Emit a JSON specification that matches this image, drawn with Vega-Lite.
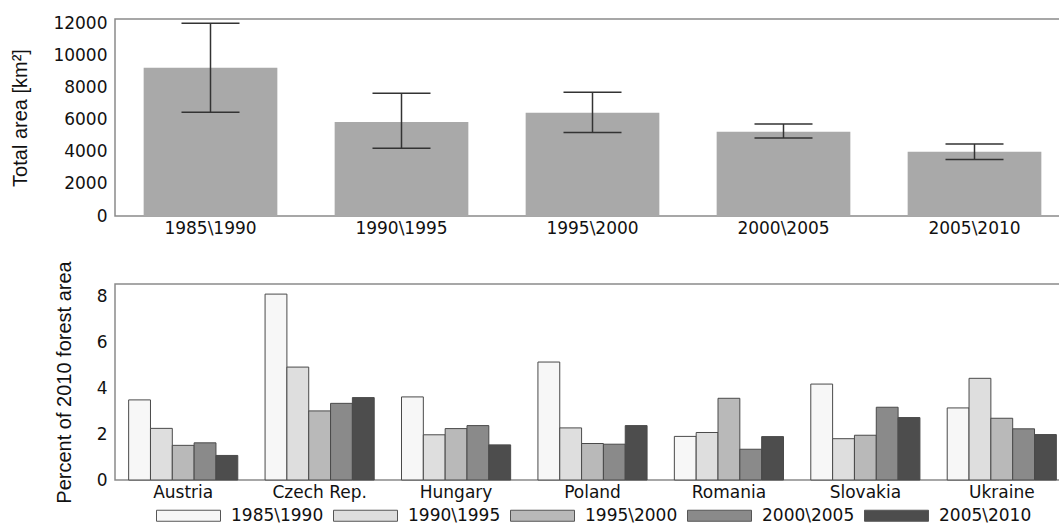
{
  "$schema": "https://vega.github.io/schema/vega-lite/v6.json",
  "padding": {"left": 10, "top": 13, "right": 0, "bottom": 0},
  "background": "white",
  "spacing": 23,
  "config": {
    "view": {"stroke": "#8a8a8a", "strokeWidth": 1.5},
    "axis": {"labelFont": "DejaVu Sans", "labelFontSize": 17, "labelColor": "#111", "titleFont": "Liberation Sans", "titleFontSize": 20, "titleFontWeight": "normal", "titleColor": "#111", "domain": false, "ticks": false, "grid": false, "labelOverlap": false},
    "legend": {"orient": "none", "legendX": 41, "legendY": 464, "direction": "horizontal", "columns": 5, "symbolType": "M-1,-0.172H1V0.172H-1Z", "symbolSize": 4096, "symbolStrokeColor": "#555", "symbolStrokeWidth": 1, "symbolOpacity": 1, "labelFont": "DejaVu Sans", "labelFontSize": 17, "labelColor": "#111", "labelOffset": 10, "columnPadding": 7}
  },
  "vconcat": [
    {
      "width": 955,
      "height": 197,
      "data": {"values": [
        {"period": "1985\\1990", "area": 9220, "lo": 6450, "hi": 11980},
        {"period": "1990\\1995", "area": 5850, "lo": 4210, "hi": 7630},
        {"period": "1995\\2000", "area": 6420, "lo": 5200, "hi": 7690},
        {"period": "2000\\2005", "area": 5240, "lo": 4850, "hi": 5720},
        {"period": "2005\\2010", "area": 4000, "lo": 3520, "hi": 4480}
      ]},
      "encoding": {
        "x": {"field": "period", "type": "nominal", "sort": null, "scale": {"paddingInner": 0.3, "paddingOuter": 0.15}, "axis": {"title": null, "labelAngle": 0, "labelPadding": 4}}
      },
      "layer": [
        {"mark": {"type": "bar", "color": "#a9a9a9"},
         "encoding": {"y": {"field": "area", "type": "quantitative", "scale": {"domain": [0, 12250], "nice": false}, "axis": {"title": "Total area [km²]", "values": [0, 2000, 4000, 6000, 8000, 10000, 12000], "format": "d", "labelPadding": 8, "titlePadding": 22, "labelOverlap": false}}}},
        {"mark": {"type": "rule", "color": "#333333", "strokeWidth": 1.5},
         "encoding": {"y": {"field": "lo", "type": "quantitative", "axis": {"title": "Total area [km²]", "values": [0, 2000, 4000, 6000, 8000, 10000, 12000], "format": "d", "labelPadding": 8, "titlePadding": 22, "labelOverlap": false}}, "y2": {"field": "hi"}}},
        {"mark": {"type": "tick", "color": "#333333", "thickness": 1.5, "size": 58, "opacity": 1},
         "encoding": {"y": {"field": "lo", "type": "quantitative", "axis": {"title": "Total area [km²]", "values": [0, 2000, 4000, 6000, 8000, 10000, 12000], "format": "d", "labelPadding": 8, "titlePadding": 22, "labelOverlap": false}}}},
        {"mark": {"type": "tick", "color": "#333333", "thickness": 1.5, "size": 58, "opacity": 1},
         "encoding": {"y": {"field": "hi", "type": "quantitative", "axis": {"title": "Total area [km²]", "values": [0, 2000, 4000, 6000, 8000, 10000, 12000], "format": "d", "labelPadding": 8, "titlePadding": 22, "labelOverlap": false}}}}
      ]
    },
    {
      "width": 955,
      "height": 196,
      "data": {"values": [
        {"country": "Austria", "period": "1985\\1990", "pct": 3.49},
        {"country": "Austria", "period": "1990\\1995", "pct": 2.25},
        {"country": "Austria", "period": "1995\\2000", "pct": 1.51},
        {"country": "Austria", "period": "2000\\2005", "pct": 1.62},
        {"country": "Austria", "period": "2005\\2010", "pct": 1.07},
        {"country": "Czech Rep.", "period": "1985\\1990", "pct": 8.1},
        {"country": "Czech Rep.", "period": "1990\\1995", "pct": 4.92},
        {"country": "Czech Rep.", "period": "1995\\2000", "pct": 3.01},
        {"country": "Czech Rep.", "period": "2000\\2005", "pct": 3.34},
        {"country": "Czech Rep.", "period": "2005\\2010", "pct": 3.59},
        {"country": "Hungary", "period": "1985\\1990", "pct": 3.62},
        {"country": "Hungary", "period": "1990\\1995", "pct": 1.97},
        {"country": "Hungary", "period": "1995\\2000", "pct": 2.24},
        {"country": "Hungary", "period": "2000\\2005", "pct": 2.37},
        {"country": "Hungary", "period": "2005\\2010", "pct": 1.53},
        {"country": "Poland", "period": "1985\\1990", "pct": 5.14},
        {"country": "Poland", "period": "1990\\1995", "pct": 2.27},
        {"country": "Poland", "period": "1995\\2000", "pct": 1.59},
        {"country": "Poland", "period": "2000\\2005", "pct": 1.56},
        {"country": "Poland", "period": "2005\\2010", "pct": 2.37},
        {"country": "Romania", "period": "1985\\1990", "pct": 1.9},
        {"country": "Romania", "period": "1990\\1995", "pct": 2.07},
        {"country": "Romania", "period": "1995\\2000", "pct": 3.56},
        {"country": "Romania", "period": "2000\\2005", "pct": 1.34},
        {"country": "Romania", "period": "2005\\2010", "pct": 1.89},
        {"country": "Slovakia", "period": "1985\\1990", "pct": 4.18},
        {"country": "Slovakia", "period": "1990\\1995", "pct": 1.8},
        {"country": "Slovakia", "period": "1995\\2000", "pct": 1.95},
        {"country": "Slovakia", "period": "2000\\2005", "pct": 3.17},
        {"country": "Slovakia", "period": "2005\\2010", "pct": 2.72},
        {"country": "Ukraine", "period": "1985\\1990", "pct": 3.14},
        {"country": "Ukraine", "period": "1990\\1995", "pct": 4.43},
        {"country": "Ukraine", "period": "1995\\2000", "pct": 2.69},
        {"country": "Ukraine", "period": "2000\\2005", "pct": 2.23},
        {"country": "Ukraine", "period": "2005\\2010", "pct": 1.98}
      ]},
      "mark": {"type": "bar", "stroke": "#4a4a4a", "strokeWidth": 1, "opacity": 1},
      "encoding": {
        "x": {"field": "country", "type": "nominal", "sort": null, "scale": {"paddingInner": 0.2, "paddingOuter": 0.1}, "axis": {"title": null, "labelAngle": 0, "labelPadding": 4}},
        "xOffset": {"field": "period", "type": "nominal", "sort": null},
        "y": {"field": "pct", "type": "quantitative", "scale": {"domain": [0, 8.54], "nice": false}, "axis": {"title": "Percent of 2010 forest area", "values": [0, 2, 4, 6, 8], "labelPadding": 8, "titlePadding": 22, "labelOverlap": false}},
        "color": {"field": "period", "type": "nominal", "sort": null, "scale": {"range": ["#f7f7f7", "#dedede", "#b9b9b9", "#8a8a8a", "#4d4d4d"]}, "legend": {"title": null}}
      }
    }
  ]
}
